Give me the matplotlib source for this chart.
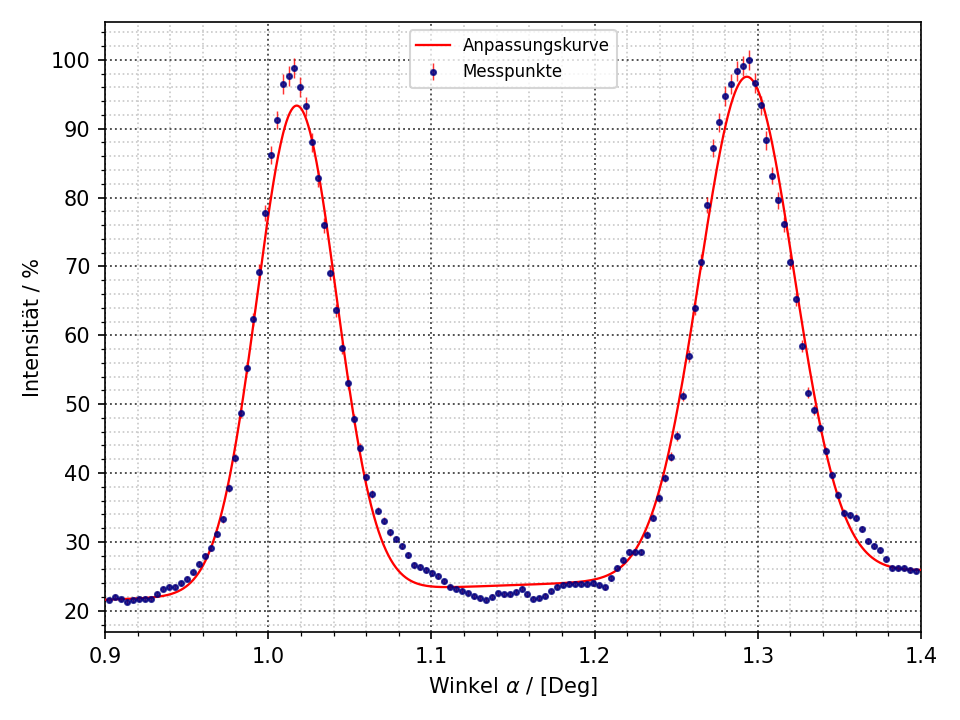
import numpy as np
import matplotlib
matplotlib.use("Agg")
import matplotlib.pyplot as plt
from matplotlib.ticker import MultipleLocator, AutoMinorLocator

angle_start = 0.9026   # first measured angle [deg]
angle_step = 0.003661  # measurement step [deg]
intensity = [
    21.56, 22.04, 21.70, 21.26, 21.60, 21.75, 21.75, 21.70, 22.47, 23.20,
    23.50, 23.50, 24.00, 24.65, 25.60, 26.80, 27.95, 29.10, 31.15, 33.30,
    37.80, 42.20, 48.70, 55.30, 62.30, 69.26, 77.75, 86.18, 91.27, 96.50,
    97.67, 98.80, 96.00, 93.26, 88.00, 82.80, 75.95, 69.10, 63.60, 58.20,
    53.00, 47.90, 43.70, 39.40, 36.97, 34.50, 33.05, 31.40, 30.40, 29.36,
    28.05, 26.64, 26.35, 25.92, 25.48, 25.04, 24.32, 23.50, 23.20, 22.90,
    22.57, 22.10, 21.80, 21.55, 22.04, 22.57, 22.40, 22.40, 22.76, 23.20,
    22.40, 21.75, 21.84, 22.18, 22.86, 23.50, 23.78, 23.93, 23.93, 23.93,
    23.93, 24.00, 23.70, 23.40, 24.75, 26.20, 27.37, 28.50, 28.50, 28.50,
    31.05, 33.50, 36.40, 39.25, 42.40, 45.40, 51.20, 57.05, 63.90, 70.70,
    78.87, 87.16, 90.94, 94.72, 96.47, 98.36, 99.08, 99.96, 96.60, 93.40,
    88.30, 83.20, 79.60, 76.10, 70.70, 65.20, 58.50, 51.67, 49.20, 46.60,
    43.20, 39.70, 36.80, 34.20, 33.90, 33.50, 31.90, 30.10, 29.40, 28.80,
    27.50, 26.20, 26.20, 26.20, 25.90, 25.80,
]
rel_error = 0.015  # relative uncertainty of the intensity

# --- fit parameters (two Gaussians on a linear background) ---
bg_offset = 21.6
bg_slope = 8.5
peak1_amp, peak1_mu, peak1_sigma = 70.75, 1.0174, 0.0244
peak2_amp, peak2_mu, peak2_sigma = 72.6, 1.2932, 0.0289

angles = angle_start + angle_step * np.arange(len(intensity))
intensity = np.array(intensity)
yerr = rel_error * intensity


def model(x):
    bg = bg_offset + bg_slope * (x - 0.9)
    g1 = peak1_amp * np.exp(-0.5 * ((x - peak1_mu) / peak1_sigma) ** 2)
    g2 = peak2_amp * np.exp(-0.5 * ((x - peak2_mu) / peak2_sigma) ** 2)
    return bg + g1 + g2


fig = plt.figure(figsize=(6.4, 4.8), dpi=150)
ax = fig.add_axes([0.1094, 0.1222, 0.85, 0.8472])

xfit = np.linspace(0.9, 1.4, 1000)
ax.plot(xfit, model(xfit), color="red", lw=1.1, label="Anpassungskurve", zorder=3)
ax.errorbar(angles, intensity, yerr=yerr, fmt="o", color="navy", alpha=0.8,
            markersize=2.4, ecolor="red", elinewidth=0.7, capsize=0,
            label="Messpunkte", zorder=4)

ax.set_xlim(0.9, 1.4)
ax.xaxis.set_major_locator(MultipleLocator(0.1))
ax.xaxis.set_minor_locator(AutoMinorLocator(5))
ax.yaxis.set_major_locator(MultipleLocator(10))
ax.yaxis.set_minor_locator(AutoMinorLocator(5))

ax.grid(which="major", linestyle=":", color="#4a4a4a", linewidth=0.9)
ax.grid(which="minor", linestyle=":", color="#c8c8c8", linewidth=0.8)
ax.set_axisbelow(True)

ax.set_xlabel(r"Winkel $\alpha$ / [Deg]")
ax.set_ylabel("Intensität / %")
ax.legend(loc="upper center", fontsize=8)

fig.savefig("out.png", dpi=150)
